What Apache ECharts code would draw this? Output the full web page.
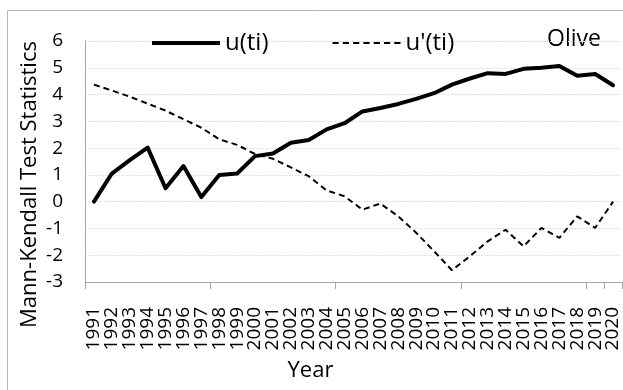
<!DOCTYPE html>
<html>
<head>
<meta charset="utf-8">
<script src="https://cdn.jsdelivr.net/npm/echarts@6/dist/echarts.min.js"></script>
<style>html,body{margin:0;padding:0;background:#fff}#c{width:623px;height:390px}</style>
</head>
<body>
<div id="c"></div>
<script>
const years = ['1991','1992','1993','1994','1995','1996','1997','1998','1999','2000','2001','2002','2003','2004','2005','2006','2007','2008','2009','2010','2011','2012','2013','2014','2015','2016','2017','2018','2019','2020'];
const uForward = [0.0,1.05,1.55,2.02,0.5,1.33,0.17,1.0,1.05,1.7,1.8,2.2,2.3,2.7,2.93,3.37,3.5,3.65,3.84,4.05,4.37,4.6,4.8,4.77,4.96,5.0,5.07,4.7,4.77,4.35];
const uBackward = [4.37,4.15,3.92,3.66,3.4,3.08,2.76,2.33,2.12,1.78,1.6,1.28,0.95,0.42,0.2,-0.3,-0.07,-0.55,-1.16,-1.85,-2.56,-2.04,-1.48,-1.05,-1.67,-0.98,-1.35,-0.55,-0.98,0.0];
const yTicks = [-3,-2,-1,0,1,2,3,4,5,6];
const seriesNames = ['u(ti)', "u'(ti)"];
const chartLabel = 'Olive';

const FONT = '"Open Sans", "Liberation Sans", sans-serif';
const chart = echarts.init(document.getElementById('c'), null, {renderer:'canvas'});
chart.setOption({
  animation:false,
  backgroundColor:'#fff',
  graphic:[
    {type:'rect', shape:{x:7.5,y:10.5,width:700,height:500}, style:{fill:'none',stroke:'#b3b3b3',lineWidth:1}, z:-1},
    {type:'text', left:547, top:28, style:{text:chartLabel, font:'23px ' + FONT, fill:'#000'}}
  ],
  legend:{
    left:147, top:26, itemWidth:68, itemHeight:22, itemGap:64,
    textStyle:{fontFamily:FONT, fontSize:24, color:'#000'},
    data:[
      {name:seriesNames[0], icon:'path://M0,9 L68,9 L68,13 L0,13 Z'},
      {name:seriesNames[1], icon:'path://M0,10 L6,10 L6,12 L0,12 Z M10,10 L16,10 L16,12 L10,12 Z M20,10 L26,10 L26,12 L20,12 Z M30,10 L36,10 L36,12 L30,12 Z M40,10 L46,10 L46,12 L40,12 Z M50,10 L56,10 L56,12 L50,12 Z M60,10 L66,10 L66,12 L60,12 Z'}
    ]
  },
  grid:{left:85, top:41, width:537, height:241, containLabel:false},
  xAxis:{
    type:'category', data:years, boundaryGap:true,
    name:'Year', nameLocation:'middle', nameGap:78,
    nameTextStyle:{fontFamily:FONT, fontSize:22, color:'#000', padding:[0,86,0,0]},
    axisLine:{onZero:false, lineStyle:{color:'#a6a6a6', width:1}},
    axisTick:{show:true, interval:6, length:7, lineStyle:{color:'#a6a6a6'}},
    axisLabel:{interval:0, rotate:90, fontFamily:FONT, fontSize:19, color:'#000', margin:25},
    splitLine:{show:false}
  },
  yAxis:{
    type:'value', min:yTicks[0], max:yTicks[yTicks.length-1], interval:1,
    name:'Mann-Kendall Test Statistics', nameLocation:'middle', nameGap:44, nameMoveOverlap:false,
    nameTextStyle:{fontFamily:FONT, fontSize:22, color:'#000', padding:[0,46,0,0]},
    axisLine:{show:true, lineStyle:{color:'#a6a6a6', width:1}},
    axisTick:{show:false},
    axisLabel:{fontFamily:FONT, fontSize:19, color:'#000', margin:22},
    splitLine:{show:true, lineStyle:{color:'#e3e3e3', width:1, type:[2,1]}}
  },
  series:[
    {name:seriesNames[0], type:'line', data:uForward, symbol:'none', smooth:false,
     lineStyle:{color:'#000', width:4, cap:'round', join:'round'}, itemStyle:{color:'#000'}},
    {name:seriesNames[1], type:'line', data:uBackward, symbol:'none', smooth:false,
     lineStyle:{color:'#000', width:2, type:[6,4]}, itemStyle:{color:'#000'}}
  ]
});
</script>
</body>
</html>
